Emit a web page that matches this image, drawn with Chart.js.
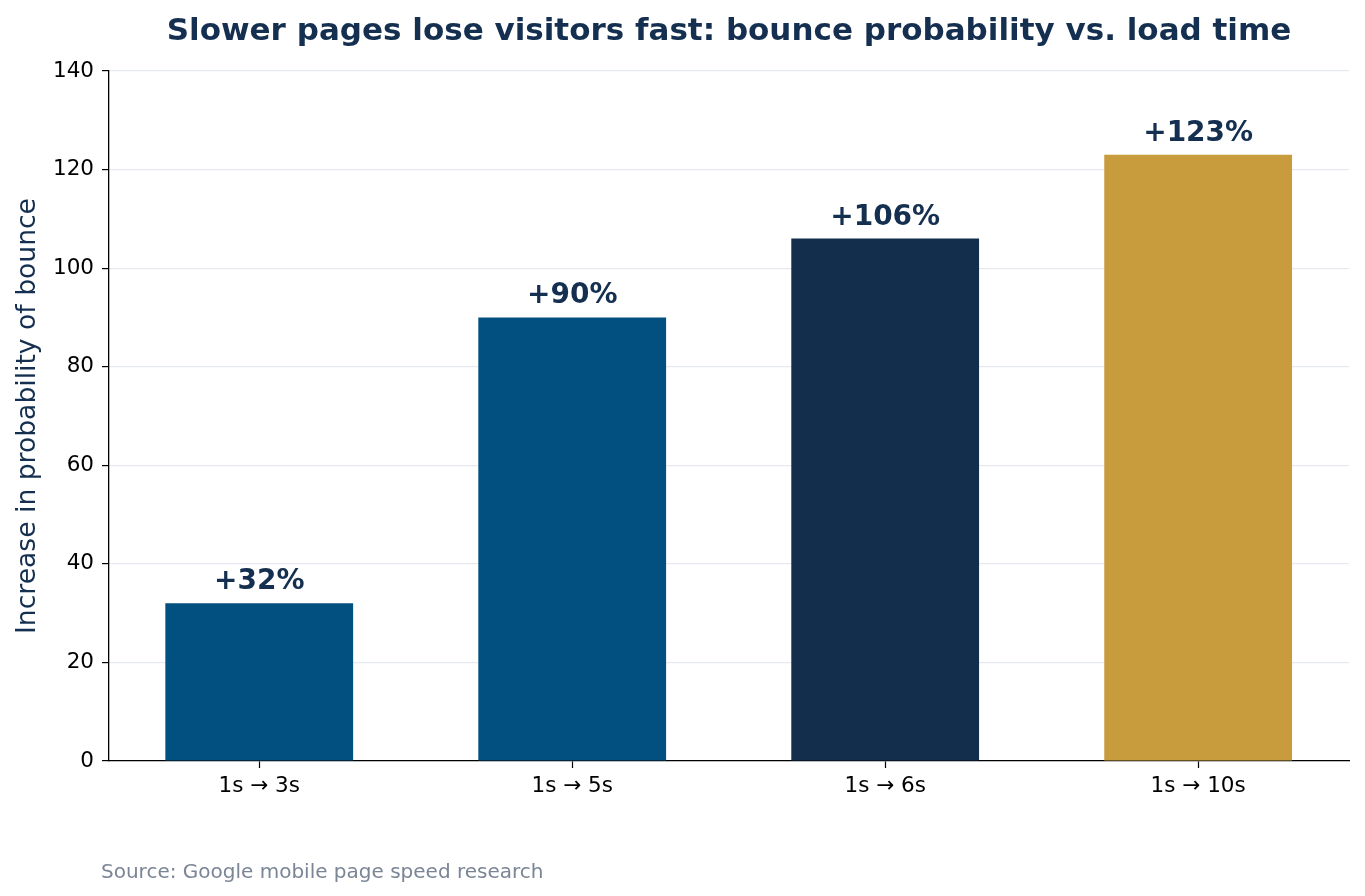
<!DOCTYPE html>
<html>
<head>
<meta charset="utf-8">
<script src="https://cdn.jsdelivr.net/npm/chart.js@4.4.1/dist/chart.umd.min.js"></script>
<style>
  html, body { margin: 0; padding: 0; background: #fff; }
  #wrap { position: relative; width: 1365px; height: 896px; }
</style>
</head>
<body>
<div id="wrap"><canvas id="chart"></canvas></div>
<script>
// data
const categories = ["1s \u2192 3s", "1s \u2192 5s", "1s \u2192 6s", "1s \u2192 10s"];
const bounceIncrease = [32, 90, 106, 123];
const barColors = ["#02507f", "#02507f", "#132e4d", "#c89b3d"];
const yTicks = [0, 20, 40, 60, 80, 100, 120, 140];

const titleText = "Slower pages lose visitors fast: bounce probability vs. load time";
const sourceText = "Source: Google mobile page speed research";
const navy = "#142f4f";
const fontFamily = "'DejaVu Sans', sans-serif";

// title, value labels and source line, placed from the chart area / bar elements
const annotations = {
  id: "annotations",
  afterDatasetsDraw(chart) {
    const ctx = chart.ctx;
    const area = chart.chartArea;
    ctx.save();

    // value labels above each bar
    ctx.fillStyle = navy;
    ctx.font = "bold 28px " + fontFamily;
    ctx.textAlign = "center";
    ctx.textBaseline = "alphabetic";
    chart.getDatasetMeta(0).data.forEach((bar, i) => {
      ctx.fillText("+" + bounceIncrease[i] + "%", bar.x, bar.y - 14);
    });

    // title centred over the plot
    ctx.font = "bold 31px " + fontFamily;
    ctx.fillText(titleText, (area.left + area.right) / 2, 40);

    // source note bottom-left
    ctx.font = "20px " + fontFamily;
    ctx.fillStyle = "#7a8596";
    ctx.textAlign = "left";
    ctx.fillText(sourceText, 101, 878);
    ctx.restore();
  },
};

new Chart(document.getElementById("chart"), {
  type: "bar",
  data: {
    datasets: [
      {
        data: bounceIncrease.map((v, i) => ({ x: i, y: v })),
        backgroundColor: barColors,
        borderWidth: 0,
        barPercentage: 0.6,
        categoryPercentage: 1.0,
      },
    ],
  },
  options: {
    responsive: true,
    maintainAspectRatio: false,
    animation: false,
    layout: {
      padding: { top: 71, right: 16, bottom: 85, left: 0 },
    },
    plugins: {
      legend: { display: false },
      tooltip: { enabled: false },
      title: { display: false },
    },
    scales: {
      x: {
        type: "linear",
        offset: false,
        min: -0.48,
        max: 3.482,
        afterBuildTicks(scale) {
          scale.ticks = categories.map((c, i) => ({ value: i }));
        },
        grid: {
          offset: false,
          drawOnChartArea: false,
          drawTicks: true,
          tickLength: 7,
          tickColor: "#000",
          tickWidth: 1.2,
        },
        border: { color: "#000", width: 1.3 },
        ticks: {
          color: "#000",
          font: { family: fontFamily, size: 21.5 },
          padding: 6,
          maxRotation: 0,
          callback: (v) => categories[v],
        },
        afterFit(scale) {
          scale.height = 50;
        },
      },
      y: {
        min: 0,
        max: 140,
        afterBuildTicks(scale) {
          scale.ticks = yTicks.map((v) => ({ value: v }));
        },
        grid: {
          color: "#e6e9ee",
          lineWidth: 1.2,
          drawTicks: true,
          tickLength: 7,
          tickColor: "#000",
          tickWidth: 1.2,
        },
        border: { color: "#000", width: 1.3 },
        ticks: {
          color: "#000",
          font: { family: fontFamily, size: 21.5 },
          padding: 8,
        },
        title: {
          display: true,
          text: "Increase in probability of bounce",
          color: navy,
          font: { family: fontFamily, size: 26.6 },
          padding: { top: 12, bottom: 10 },
        },
        afterFit(scale) {
          scale.width = 109;
        },
      },
    },
  },
  plugins: [annotations],
});
</script>
</body>
</html>
